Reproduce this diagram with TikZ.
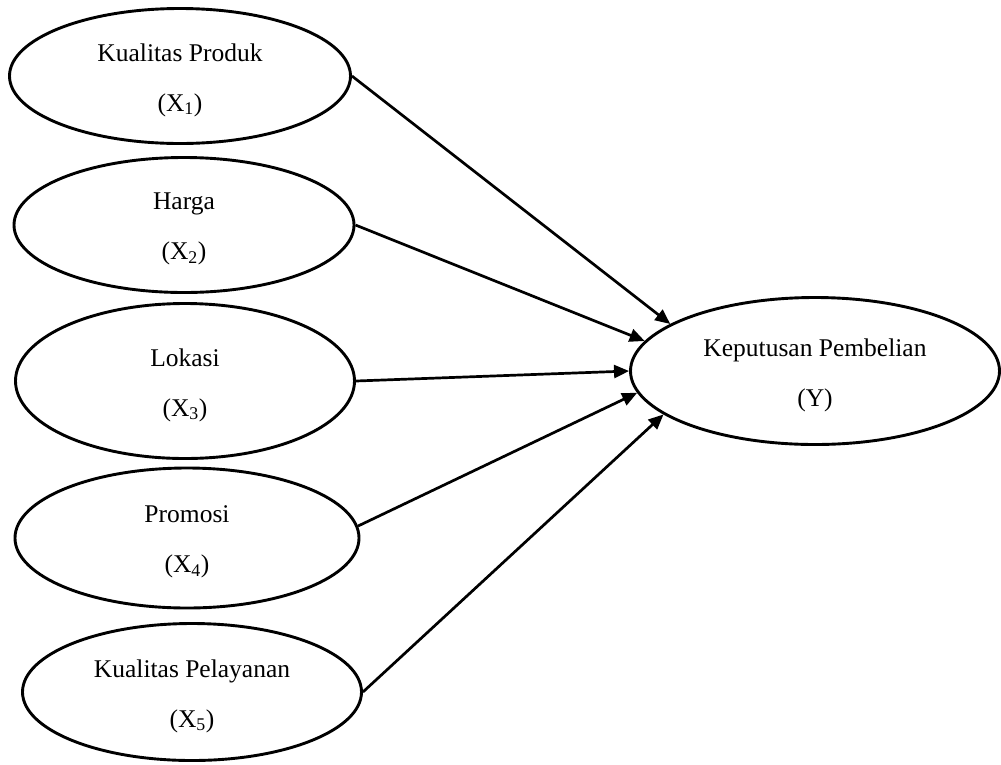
\documentclass[tikz,border=0pt]{standalone}
\usepackage{fontspec}
\setmainfont{Liberation Serif}
\usetikzlibrary{shapes.geometric,arrows.meta}
\begin{document}
\begin{tikzpicture}[x=1pt,y=-1pt,
  var/.style={draw=black, line width=2.9pt, ellipse, inner sep=0pt},
  txt/.style={align=center, inner sep=0pt, yshift=-4pt, font=\fontsize{25.5}{50}\selectfont},
  conn/.style={line width=2.7pt, -{Triangle[length=15pt,width=13pt]}}]
\useasboundingbox (0,0) rectangle (1001,764);
\node[var, minimum width=341pt, minimum height=135pt] (x1) at (180,76) {};
\node[var, minimum width=340pt, minimum height=135pt] (x2) at (184,225) {};
\node[var, minimum width=339pt, minimum height=155pt] (x3) at (185,381) {};
\node[var, minimum width=344pt, minimum height=140pt] (x4) at (187,538) {};
\node[var, minimum width=339pt, minimum height=137pt] (x5) at (192,692) {};
\node[var, minimum width=369pt, minimum height=147pt] (y) at (815,371) {};
\node[txt] (t1) at (x1.center) {Kualitas Produk\\(X\textsubscript{1})};
\node[txt] (t2) at (x2.center) {Harga\\(X\textsubscript{2})};
\node[txt] (t3) at (x3.center) {Lokasi\\(X\textsubscript{3})};
\node[txt] (t4) at (x4.center) {Promosi\\(X\textsubscript{4})};
\node[txt] (t5) at (x5.center) {Kualitas Pelayanan\\(X\textsubscript{5})};
\node[txt] (ty) at (y.center) {Keputusan Pembelian\\(Y)};
\draw[conn] (x1.east) -- (y.162.6);
\draw[conn] (x2.east) -- (y.170.8);
\draw[conn] (x3.east) -- (y.180);
\draw[conn] (x4.4) -- (y.187.8);
\draw[conn] (x5.east) -- (y.196);
\end{tikzpicture}
\end{document}
